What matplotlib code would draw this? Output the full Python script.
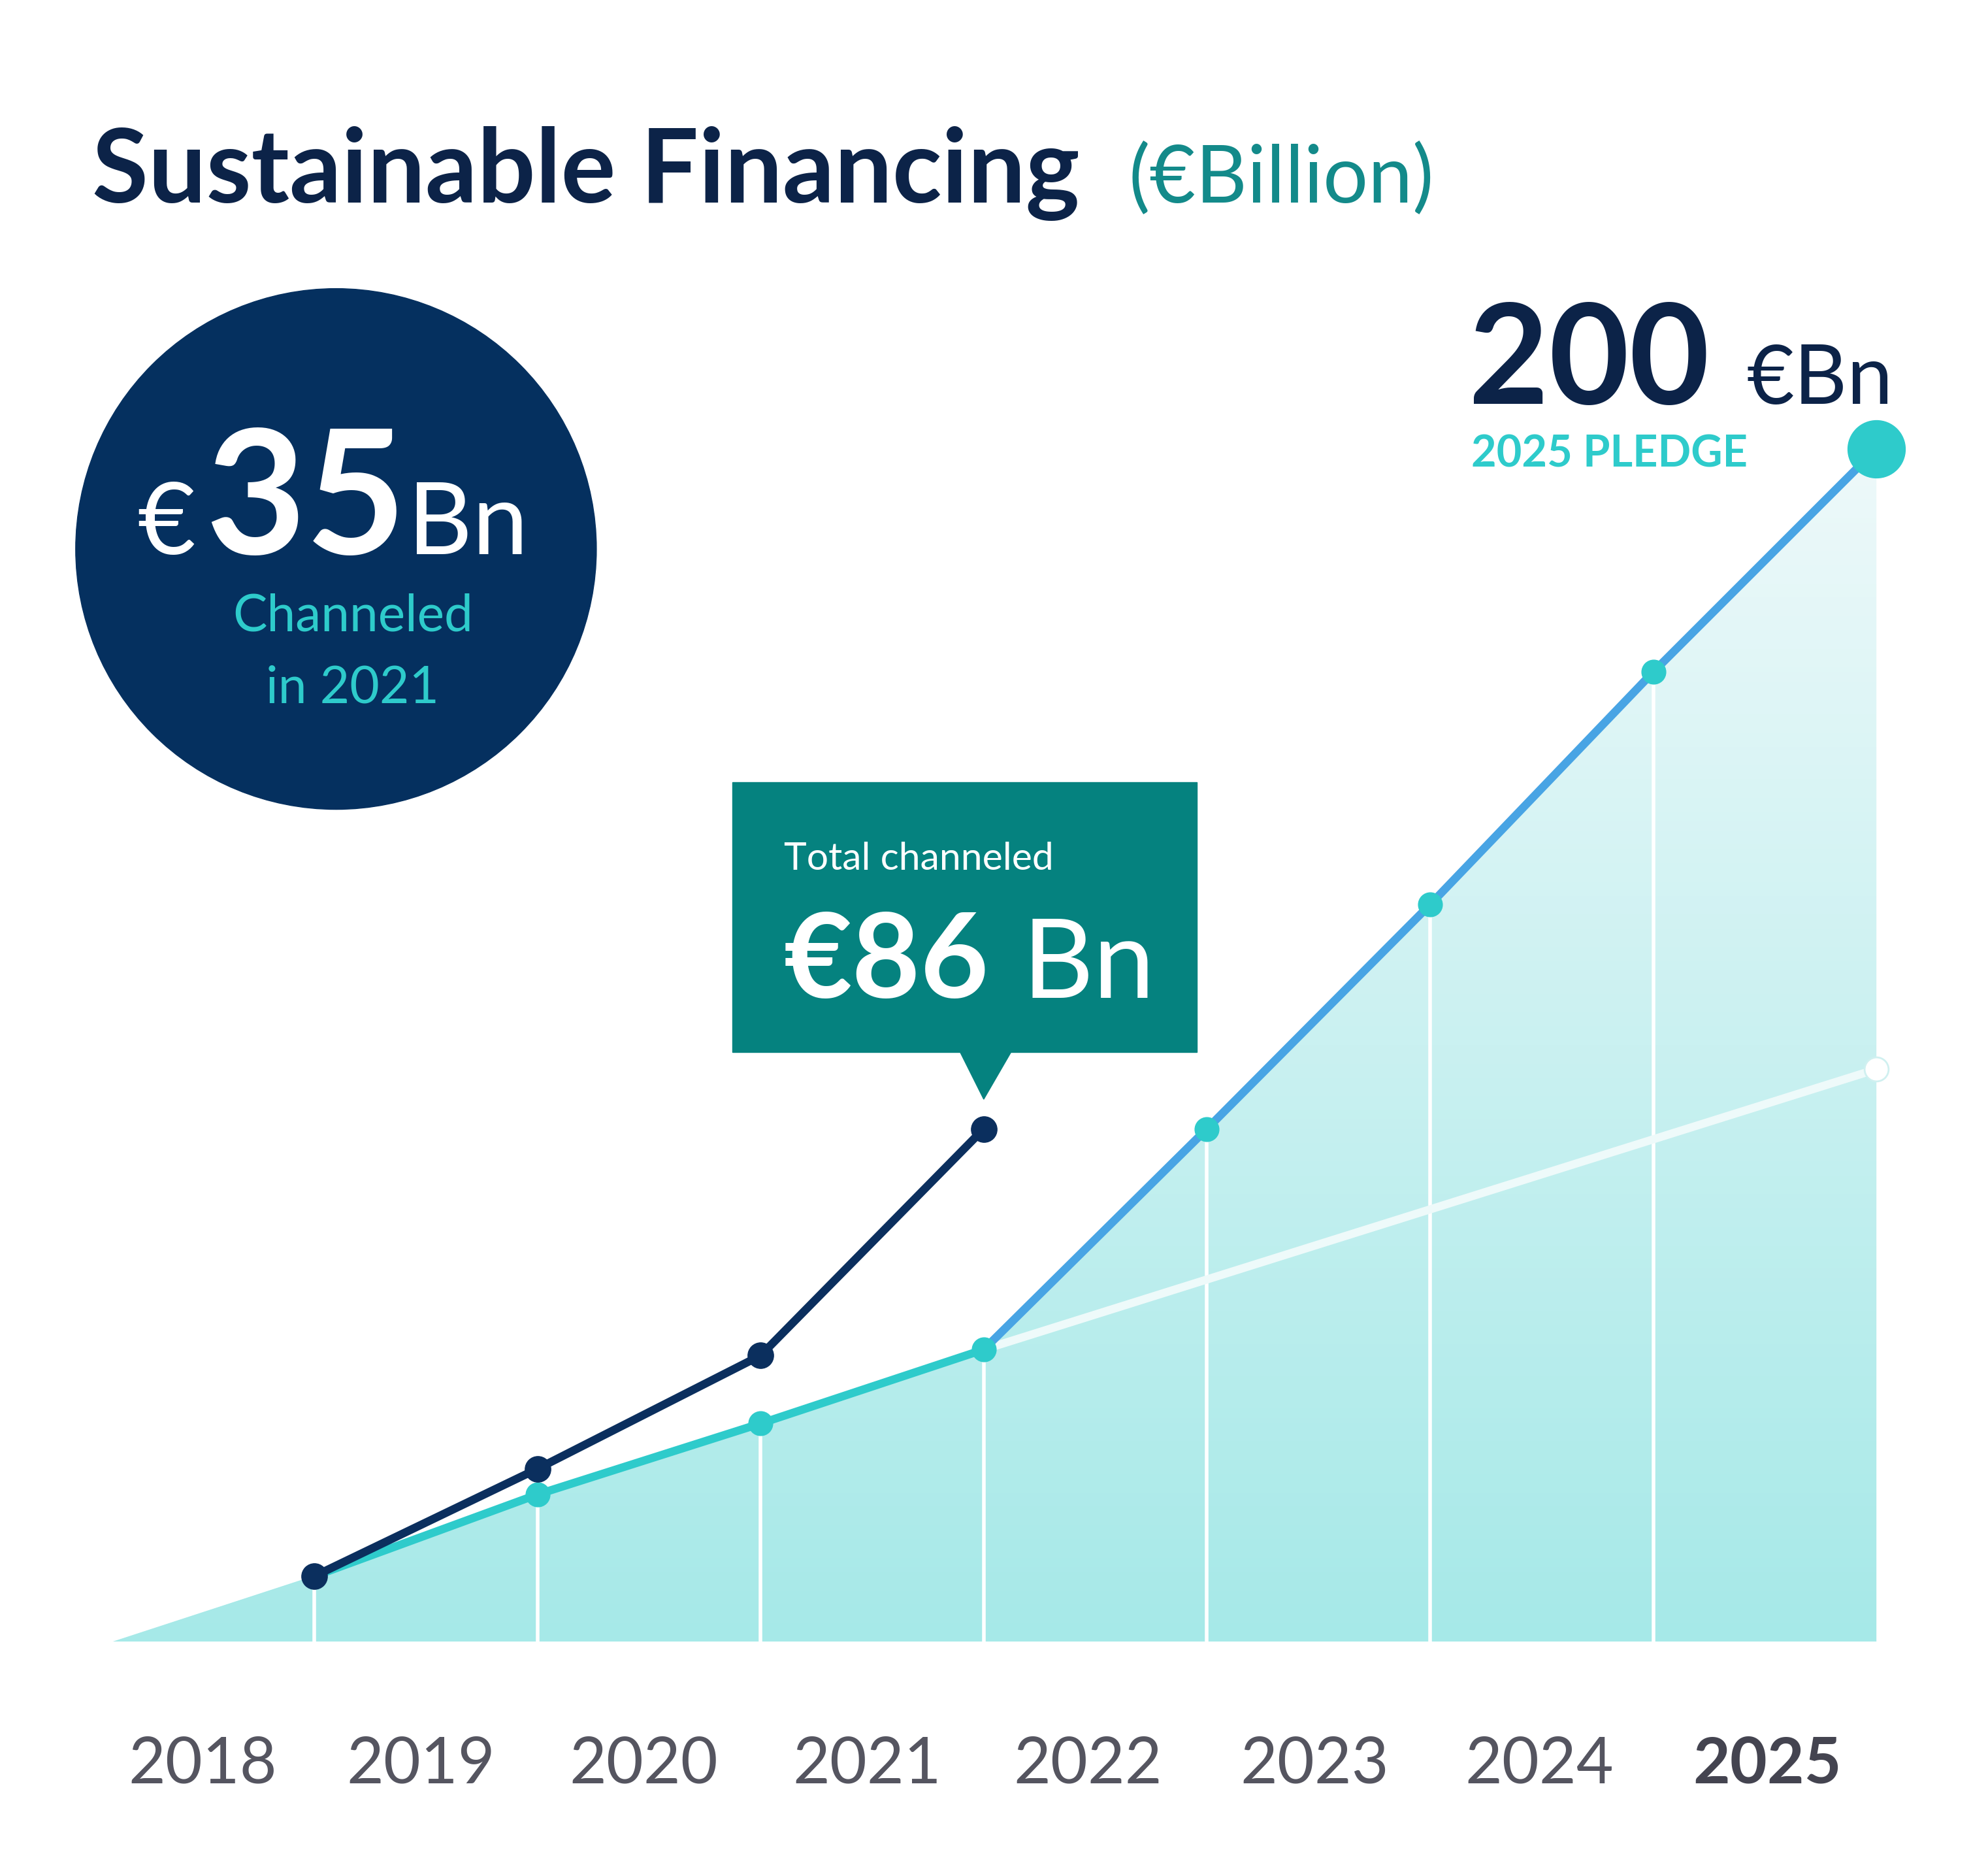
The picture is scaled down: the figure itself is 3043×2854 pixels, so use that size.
import matplotlib
matplotlib.use("Agg")
import matplotlib.pyplot as plt
import numpy as np
from matplotlib.patches import Circle, Rectangle, Polygon

years = ["2018", "2019", "2020", "2021", "2022", "2023", "2024", "2025"]
idx_hist = [1, 2, 3, 4]
channeled_total = [11, 29, 48, 86]
base_path = [11, 24.7, 36.6, 49]
idx_pledge = [4, 5, 6, 7, 8]
pledge_path = [49, 86, 123.6, 162.6, 200]
idx_trend = [4, 8]
trend_path = [49, 96]

FONT = "Lato"
W, H = 1550, 1454
fig = plt.figure(figsize=(30.43, 28.54), dpi=100)
fig.patch.set_facecolor("white")
S = 3043 / W
def pt(px):
    return px * S * 72 / 100

# chart axes
ax = fig.add_axes([71 / W, 1 - 1280 / H, (W - 71) / W, 220 * 4.65 / H])
ax.set_xlim(0, 8.5)
ax.set_ylim(0, 220)
ax.axis("off")

px_ = [0.1] + idx_hist + idx_pledge[1:]
py_ = [0] + base_path + pledge_path[1:]
poly_x = px_ + [8, 0.1]
poly_y = py_ + [0, 0]
grad = np.linspace(0, 1, 256).reshape(-1, 1)
from matplotlib.colors import LinearSegmentedColormap
cmap = LinearSegmentedColormap.from_list("g", ["#a6e9e8", "#eef9fa"])
im = ax.imshow(grad, extent=[0, 8.5, 0, 200], origin="lower", aspect="auto", cmap=cmap, zorder=1)
clip = Polygon(np.column_stack([poly_x, poly_y]), closed=True, transform=ax.transData)
im.set_clip_path(clip)

allx = idx_hist + idx_pledge[1:]
ally = base_path + pledge_path[1:]
for x, y in zip(allx[:-1], ally[:-1]):
    ax.plot([x, x], [0, y], color="white", lw=4, zorder=2)

ax.plot(idx_trend, trend_path, color="#eefafa", lw=9, zorder=3, solid_capstyle="round")
ax.plot([0.1, 1], [0, 11], color="#a6e9e8", lw=1, zorder=2)
ax.plot(idx_hist, base_path, color="#2ecbcb", lw=9, zorder=4)
ax.plot(idx_pledge, pledge_path, color="#48a4e4", lw=9, zorder=4)
ax.plot(idx_hist, channeled_total, color="#0b2f5e", lw=9, zorder=5)
ax.scatter(idx_hist[1:] + idx_pledge[1:-1], base_path[1:] + pledge_path[1:-1], s=700, color="#2ecbcb", zorder=6)
ax.scatter(idx_hist, channeled_total, s=800, color="#0b2f5e", zorder=7)
ax.scatter([8], [200], s=4000, color="#2ecbcb", zorder=7)
ax.scatter([8], [trend_path[-1]], s=700, color="white", edgecolor="#d0f0f0", lw=2, zorder=7)

# overlay for annotations
ov = fig.add_axes([0, 0, 1, 1])
ov.set_xlim(0, W); ov.set_ylim(H, 0); ov.axis("off")
ov.set_zorder(10)

ov.text(72, 158, "Sustainable Financing", fontsize=pt(80), fontweight="bold", color="#0c2348", family=FONT, va="baseline")
ov.text(880, 158, "(€Billion)", fontsize=pt(62), color="#138a8a", family=FONT, va="baseline")

ov.add_patch(Circle((262, 428), 203, color="#05305f"))
ov.text(107, 432, "€", fontsize=pt(78), color="white", family=FONT, va="baseline")
ov.text(160, 432, "35", fontsize=pt(135), fontweight="bold", color="white", family=FONT, va="baseline")
ov.text(318, 432, "Bn", fontsize=pt(78), color="white", family=FONT, va="baseline")
ov.text(275, 492, "Channeled", fontsize=pt(40), color="#2ecbcb", family=FONT, va="baseline", ha="center")
ov.text(275, 548, "in 2021", fontsize=pt(40), color="#2ecbcb", family=FONT, va="baseline", ha="center")

ov.add_patch(Rectangle((571, 610), 362, 210, color="#05827f"))
ov.add_patch(Polygon([[748, 819], [789, 819], [767, 857]], color="#05827f"))
ov.text(611, 678, "Total channeled", fontsize=pt(30), color="white", family=FONT, va="baseline")
ov.text(611, 778, "€86", fontsize=pt(92), fontweight="bold", color="white", family=FONT, va="baseline")
ov.text(797, 778, "Bn", fontsize=pt(86), color="white", family=FONT, va="baseline")

ov.text(1145, 315, "200", fontsize=pt(108), fontweight="bold", color="#0c2348", family=FONT, va="baseline")
ov.text(1362, 315, "€Bn", fontsize=pt(64), color="#0c2348", family=FONT, va="baseline")
ov.text(1147, 364, "2025 PLEDGE", fontsize=pt(34), fontweight="bold", color="#2ecbcb", family=FONT, va="baseline")

label_x = [158, 328, 502, 676, 848, 1025, 1200, 1378]
for lx, y in zip(label_x, years):
    ov.text(lx, 1390, y, fontsize=pt(50), color="#555560" if y != "2025" else "#444450",
            fontweight="bold" if y == "2025" else "normal", family=FONT, va="baseline", ha="center")

fig.savefig("out.png", dpi=100)
